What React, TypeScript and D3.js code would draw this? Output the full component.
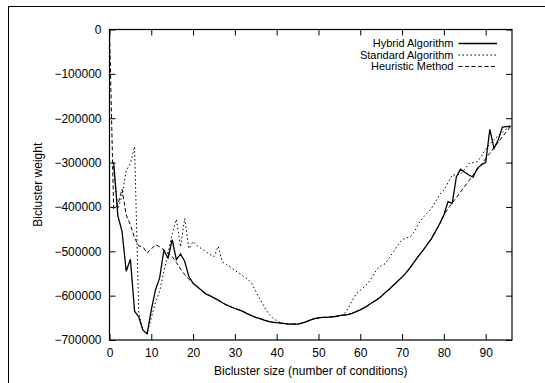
import React, { useEffect, useRef } from 'react';
import * as d3 from 'd3';

// bicluster size (number of conditions) -> bicluster weight
const hybridSizes = d3.range(1, 97);
const hybridWeights = [
  -300000, -420000, -455000, -545000, -518000, -635000, -648000, -678000, -686000, -632000,
  -587000, -560000, -498000, -515000, -474000, -519000, -506000, -523000, -557000, -572000,
  -580000, -588000, -596000, -600000, -605000, -610000, -616000, -621000, -625000, -629000,
  -632000, -636000, -641000, -645000, -649000, -652000, -655000, -658000, -660000, -661000,
  -662000, -663000, -664000, -664000, -664000, -662000, -659000, -655000, -652000, -650000,
  -649000, -649000, -648000, -647000, -645000, -644000, -643000, -640000, -636000, -632000,
  -627000, -621000, -615000, -609000, -602000, -593000, -585000, -576000, -567000, -558000,
  -548000, -536000, -523000, -510000, -498000, -485000, -472000, -455000, -438000, -418000,
  -388000, -392000, -332000, -315000, -322000, -328000, -333000, -313000, -305000, -300000,
  -225000, -268000, -249000, -220000, -219000, -218000,
];

const standardSizes = d3.range(1, 97);
const standardWeights = [
  -310000, -405000, -375000, -318000, -302000, -264000, -640000, -678000, -686000, -650000,
  -615000, -590000, -545000, -505000, -460000, -428000, -490000, -426000, -494000, -478000,
  -488000, -494000, -500000, -507000, -512000, -489000, -524000, -530000, -536000, -543000,
  -549000, -556000, -562000, -572000, -590000, -608000, -625000, -640000, -650000, -656000,
  -662000, -663000, -664000, -664000, -664000, -662000, -659000, -655000, -652000, -650000,
  -649000, -649000, -648000, -647000, -645000, -643000, -630000, -612000, -596000, -588000,
  -580000, -570000, -556000, -540000, -532000, -528000, -514000, -500000, -486000, -474000,
  -470000, -467000, -455000, -437000, -424000, -414000, -404000, -388000, -372000, -362000,
  -345000, -328000, -328000, -326000, -315000, -302000, -300000, -298000, -285000, -270000,
  -258000, -248000, -240000, -232000, -224000, -218000,
];

const heuristicSizes = d3.range(0, 97);
const heuristicWeights = [
  0, -405000, -395000, -360000, -418000, -440000, -470000, -488000, -490000, -504000,
  -495000, -485000, -490000, -497000, -505000, -512000, -525000, -540000, -553000, -563000,
  -572000, -580000, -588000, -596000, -600000, -605000, -610000, -616000, -621000, -625000,
  -629000, -632000, -636000, -641000, -645000, -649000, -652000, -655000, -658000, -660000,
  -661000, -662000, -663000, -664000, -664000, -664000, -662000, -659000, -655000, -652000,
  -650000, -649000, -649000, -648000, -647000, -645000, -644000, -643000, -640000, -636000,
  -632000, -627000, -621000, -615000, -609000, -602000, -593000, -585000, -576000, -567000,
  -558000, -548000, -536000, -523000, -510000, -498000, -485000, -472000, -455000, -438000,
  -418000, -404000, -391000, -379000, -366000, -353000, -341000, -328000, -316000, -304000,
  -291000, -279000, -266000, -254000, -242000, -230000, -218000,
];

const seriesNames = ['Hybrid Algorithm', 'Standard Algorithm', 'Heuristic Method'];
const xTicks = [0, 10, 20, 30, 40, 50, 60, 70, 80, 90];
const yTicks = [0, -100000, -200000, -300000, -400000, -500000, -600000, -700000];

const FONT = '"Liberation Sans", Arial, Helvetica, sans-serif';

const App = () => {
  const svgRef = useRef<SVGSVGElement>(null);

  useEffect(() => {
    const width = 545;
    const height = 383;
    const margin = { top: 29.5, right: 33, bottom: 43, left: 109.5 };
    const innerW = width - margin.left - margin.right;
    const innerH = height - margin.top - margin.bottom;

    const svg = d3.select(svgRef.current)
      .attr('width', width)
      .attr('height', height);
    svg.selectAll('*').remove();

    // outer frame, its right and bottom edges fall outside the picture
    svg.append('rect')
      .attr('x', 8.5).attr('y', 6.5)
      .attr('width', 700).attr('height', 700)
      .attr('fill', 'white')
      .attr('stroke', '#000')
      .attr('stroke-width', 1);

    const x = d3.scaleLinear().domain([0, 96.3]).range([0, innerW]);
    const y = d3.scaleLinear().domain([-700000, 0]).range([innerH, 0]);

    const g = svg.append('g')
      .attr('transform', `translate(${margin.left},${margin.top})`)
      .style('font-family', FONT)
      .style('font-size', '12px');

    const styleAxis = (sel: any) => {
      sel.select('.domain').remove();
      sel.selectAll('line').attr('stroke', '#000');
      sel.selectAll('text').attr('fill', '#000').style('font-family', FONT).style('font-size', '12px');
    };

    g.append('g')
      .attr('transform', `translate(0,${innerH})`)
      .call(d3.axisBottom(x).tickValues(xTicks).tickSize(-6).tickPadding(8))
      .call(styleAxis);
    g.append('g')
      .call(d3.axisTop(x).tickValues(xTicks).tickSize(-6).tickFormat(() => ''))
      .call(styleAxis);
    g.append('g')
      .call(d3.axisLeft(y).tickValues(yTicks).tickSize(-6).tickPadding(8).tickFormat(d3.format('d')))
      .call(styleAxis);
    g.append('g')
      .attr('transform', `translate(${innerW},0)`)
      .call(d3.axisRight(y).tickValues(yTicks).tickSize(-6).tickFormat(() => ''))
      .call(styleAxis);

    g.append('rect')
      .attr('width', innerW).attr('height', innerH)
      .attr('fill', 'none')
      .attr('stroke', '#000')
      .attr('stroke-width', 1.2);

    const line = d3.line<[number, number]>()
      .x(d => x(d[0]))
      .y(d => y(d[1]));

    const dashes = [null, '1.5,2.5', '4,2.5'];
    const series: [number, number][][] = [
      d3.zip(hybridSizes, hybridWeights) as [number, number][],
      d3.zip(standardSizes, standardWeights) as [number, number][],
      d3.zip(heuristicSizes, heuristicWeights) as [number, number][],
    ];

    series.forEach((pts, i) => {
      g.append('path')
        .datum(pts)
        .attr('d', line)
        .attr('fill', 'none')
        .attr('stroke', '#000')
        .attr('stroke-width', i === 0 ? 1.3 : 1)
        .attr('stroke-dasharray', dashes[i]);
    });

    // legend, top right inside the frame
    const legend = g.append('g').style('font-size', '11px');
    seriesNames.forEach((name, i) => {
      const ly = 14 + i * 11.5;
      legend.append('text')
        .attr('x', 344)
        .attr('y', ly)
        .attr('dy', '0.35em')
        .attr('text-anchor', 'end')
        .attr('fill', '#000')
        .text(name);
      legend.append('line')
        .attr('x1', 349).attr('x2', 387.5)
        .attr('y1', ly).attr('y2', ly)
        .attr('stroke', '#000')
        .attr('stroke-width', i === 0 ? 1.3 : 1)
        .attr('stroke-dasharray', dashes[i]);
    });

    g.append('text')
      .attr('x', innerW / 2)
      .attr('y', innerH + 31)
      .attr('dy', '0.35em')
      .attr('text-anchor', 'middle')
      .attr('fill', '#000')
      .text('Bicluster size (number of conditions)');

    g.append('text')
      .attr('transform', `translate(${38 - margin.left},${innerH / 2}) rotate(-90)`)
      .attr('dy', '0.35em')
      .attr('text-anchor', 'middle')
      .attr('fill', '#000')
      .text('Bicluster weight');
  }, []);

  return (
    <svg ref={svgRef} style={{ position: 'absolute', left: 0, top: 0, display: 'block' }}></svg>
  );
};

export default App;
